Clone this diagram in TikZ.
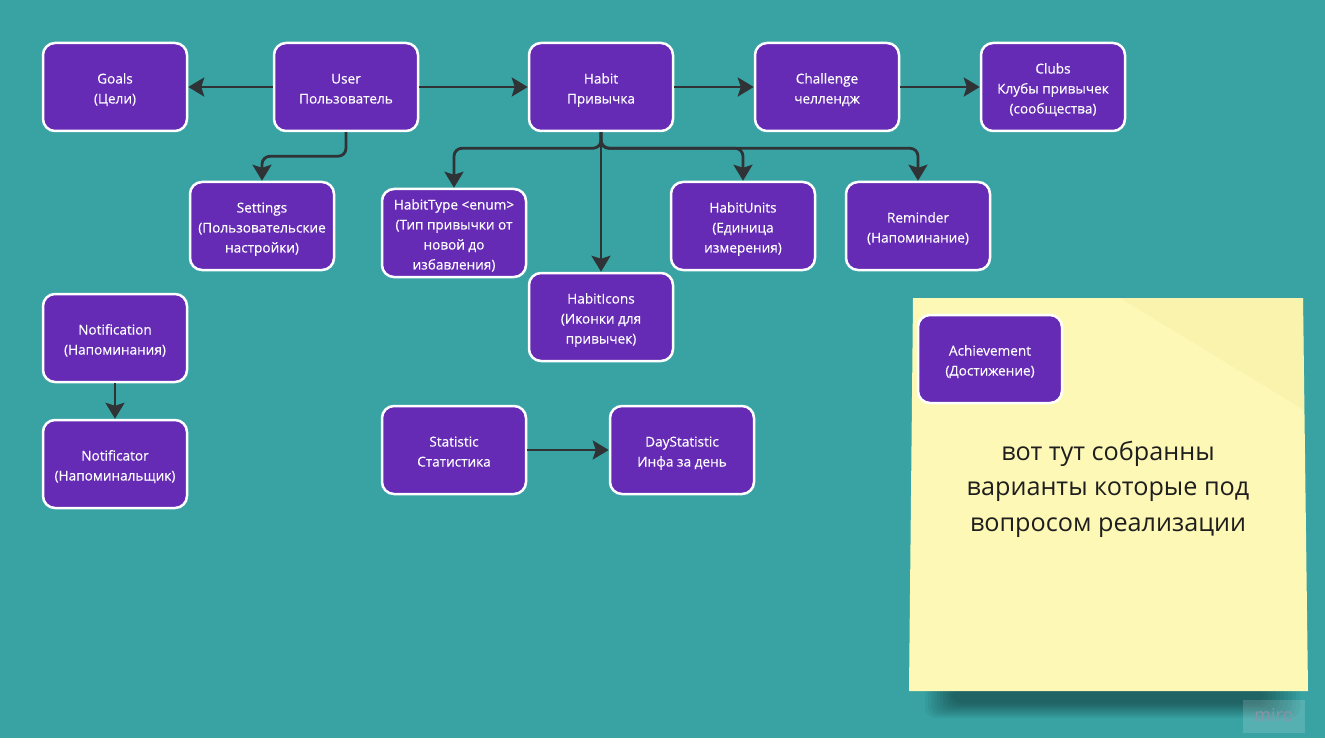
\documentclass[tikz,border=0pt]{standalone}
\usepackage{fontspec}
\setmainfont{Open Sans}
\newfontfamily\boxfont[FakeBold=0.35]{Open Sans}
\usetikzlibrary{arrows.meta}
\definecolor{board}{HTML}{39A3A4}
\definecolor{boxfill}{HTML}{652BB4}
\definecolor{wire}{HTML}{2F3336}
\definecolor{sticky}{HTML}{FDF8B5}
\definecolor{stickyfold}{HTML}{F4EBA2}
\definecolor{notetext}{HTML}{1E1E1E}
\definecolor{marktext}{HTML}{8A93A8}
% centred block of lines, drawn a little low while keeping its size
\newcommand{\entitytext}[1]{\raisebox{-2.5pt}[\height][\depth]{\begin{tabular}{@{}c@{}}#1\end{tabular}}}

\begin{document}
\begin{tikzpicture}[x=1pt,y=-1pt,
  entity/.style={draw=white, line width=2.5pt, fill=boxfill, rounded corners=12pt,
    minimum width=144pt, minimum height=88pt, text=white,
    font=\boxfont\fontsize{13.6}{20}\selectfont, inner sep=2pt},
  link/.style={draw=wire, line width=2.8pt, -{Stealth[length=16pt,width=19pt,inset=3pt]}},
  elbow/.style={link, rounded corners=8pt}]

% board and bottom strip
\fill[board] (0,0) rectangle (1325,738);
\fill[white] (0,738) rectangle (1325,754);
\useasboundingbox (0,0) rectangle (1325,754);

% sticky note with its soft shadow
\foreach \k in {0,...,9}
  \fill[black, opacity=0.045, rounded corners=10pt]
    (925+3*\k,678+\k) rectangle (1300-4*\k,718-1.6*\k);
\fill[sticky] (913,298) -- (1303,298) -- (1308,691) -- (909,691) -- cycle;
\fill[stickyfold, opacity=0.35] (1120,298) -- (1303,298) -- (1304,410) -- cycle;
\node[text=notetext, align=center, font=\fontsize{25.2}{35.5}\selectfont] (note) at (1108,489)
  {вот тут собранны\\варианты которые под\\вопросом реализации};

% watermark
\fill[white, opacity=0.15] (1243,700) rectangle (1305,733);
\node[text=marktext, font=\fontsize{18}{18}\selectfont] (mark) at (1274,715) {miro};

% entities
\node[entity] (goals)     at (115,87)  {\entitytext{Goals\\(Цели)}};
\node[entity] (user)      at (346,87)  {\entitytext{User\\Пользователь}};
\node[entity] (habit)     at (601,87)  {\entitytext{Habit\\Привычка}};
\node[entity] (challenge) at (827,87)  {\entitytext{Challenge\\челлендж}};
\node[entity] (clubs)     at (1053,87) {\entitytext{Clubs\\Клубы привычек\\(сообщества)}};
\node[entity] (settings)  at (262,226) {\entitytext{Settings\\(Пользовательские\\настройки)}};
\node[entity] (habittype) at (454,233) {\entitytext{HabitType <enum>\\(Тип привычки от\\новой до\\избавления)}};
\node[entity] (habiticons) at (601,317) {\entitytext{HabitIcons\\(Иконки для\\привычек)}};
\node[entity] (habitunits) at (743,226) {\entitytext{HabitUnits\\(Единица\\измерения)}};
\node[entity] (reminder)  at (918,226) {\entitytext{Reminder\\(Напоминание)}};
\node[entity] (notification) at (115,338) {\entitytext{Notification\\(Напоминания)}};
\node[entity] (notificator)  at (115,464) {\entitytext{Notificator\\(Напоминальщик)}};
\node[entity] (statistic) at (454,450) {\entitytext{Statistic\\Статистика}};
\node[entity] (daystat)   at (682,450) {\entitytext{DayStatistic\\Инфа за день}};
\node[entity] (achievement) at (990,359) {\entitytext{Achievement\\(Достижение)}};

% connectors
\draw[link] (user) -- (goals);
\draw[link] (user) -- (habit);
\draw[link] (habit) -- (challenge);
\draw[link] (challenge) -- (clubs);
\draw[elbow] (user.south) -- ++(0,24) -| (settings.north);
\draw[elbow] (habit.south) -- ++(0,16) -| (habittype.north);
\draw[link] (habit.south) -- (habiticons.north);
\draw[elbow] (habit.south) -- ++(0,16) -| (habitunits.north);
\draw[elbow] (habit.south) -- ++(0,16) -| (reminder.north);
\draw[link] (notification) -- (notificator);
\draw[link] (statistic) -- (daystat);
\end{tikzpicture}
\end{document}
